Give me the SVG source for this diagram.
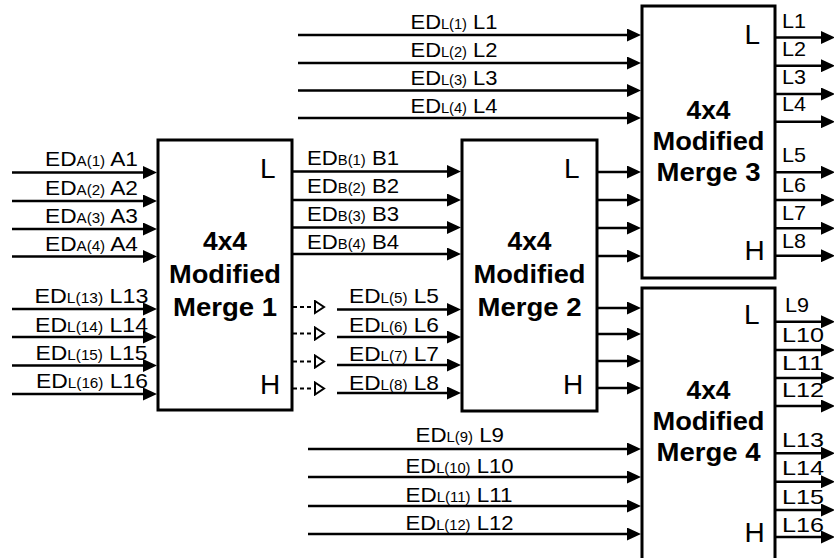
<svg xmlns="http://www.w3.org/2000/svg" width="834" height="558" viewBox="0 0 834 558">
<style>
.box{fill:#fff;stroke:#000;stroke-width:3}
.w{stroke:#000;stroke-width:2.5;fill:none;marker-end:url(#ah)}
.d{stroke:#000;stroke-width:2;stroke-dasharray:4 3;fill:none;marker-end:url(#oh)}
text{font-family:"Liberation Sans",Arial,sans-serif;fill:#000}
.lbl{font-size:21px}
.sub{font-size:14px}
.out{font-size:21px}
.big{font-size:28px}
.t{font-size:25px;font-weight:bold;text-anchor:middle}
</style>
<defs>
<marker id="ah" viewBox="0 0 14 13" refX="8" refY="6.5" markerWidth="14" markerHeight="13" markerUnits="userSpaceOnUse" orient="auto"><path d="M0,0 L14,6.5 L0,13 Z" fill="#000"/></marker>
<marker id="oh" viewBox="-1.5 -1.5 13 15" refX="0" refY="6" markerWidth="13" markerHeight="15" markerUnits="userSpaceOnUse" orient="auto"><path d="M0,0 L9,6 L0,12 Z" fill="#fff" stroke="#000" stroke-width="2" stroke-dasharray="none"/></marker>
</defs>
<g id="connectors">
<line class="w" x1="12" y1="172.5" x2="151" y2="172.5"/>
<line class="w" x1="12" y1="201" x2="151" y2="201"/>
<line class="w" x1="12" y1="229" x2="151" y2="229"/>
<line class="w" x1="12" y1="256.5" x2="151" y2="256.5"/>
<line class="w" x1="12" y1="309" x2="151" y2="309"/>
<line class="w" x1="12" y1="337" x2="151" y2="337"/>
<line class="w" x1="12" y1="365.5" x2="151" y2="365.5"/>
<line class="w" x1="12" y1="394" x2="151" y2="394"/>
<line class="w" x1="292" y1="171.5" x2="455" y2="171.5"/>
<line class="w" x1="292" y1="200" x2="455" y2="200"/>
<line class="w" x1="292" y1="227.5" x2="455" y2="227.5"/>
<line class="w" x1="292" y1="254" x2="455" y2="254"/>
<line class="d" x1="293" y1="307" x2="315" y2="307"/>
<line class="d" x1="293" y1="333.5" x2="315" y2="333.5"/>
<line class="d" x1="293" y1="361.5" x2="315" y2="361.5"/>
<line class="d" x1="293" y1="388.5" x2="315" y2="388.5"/>
<line class="w" x1="337" y1="309.5" x2="455" y2="309.5"/>
<line class="w" x1="337" y1="337" x2="455" y2="337"/>
<line class="w" x1="337" y1="365" x2="455" y2="365"/>
<line class="w" x1="337" y1="393" x2="455" y2="393"/>
<line class="w" x1="298" y1="35" x2="635" y2="35"/>
<line class="w" x1="298" y1="63" x2="635" y2="63"/>
<line class="w" x1="298" y1="90.5" x2="635" y2="90.5"/>
<line class="w" x1="298" y1="118" x2="635" y2="118"/>
<line class="w" x1="597" y1="172" x2="635" y2="172"/>
<line class="w" x1="597" y1="200" x2="635" y2="200"/>
<line class="w" x1="597" y1="228" x2="635" y2="228"/>
<line class="w" x1="597" y1="256" x2="635" y2="256"/>
<line class="w" x1="597" y1="308" x2="635" y2="308"/>
<line class="w" x1="597" y1="334" x2="635" y2="334"/>
<line class="w" x1="597" y1="361" x2="635" y2="361"/>
<line class="w" x1="597" y1="388" x2="635" y2="388"/>
<line class="w" x1="308" y1="449" x2="635" y2="449"/>
<line class="w" x1="308" y1="477" x2="635" y2="477"/>
<line class="w" x1="308" y1="506" x2="635" y2="506"/>
<line class="w" x1="308" y1="534" x2="635" y2="534"/>
<line class="w" x1="775" y1="37.5" x2="829" y2="37.5"/>
<line class="w" x1="775" y1="65.7" x2="829" y2="65.7"/>
<line class="w" x1="775" y1="94" x2="829" y2="94"/>
<line class="w" x1="775" y1="121.7" x2="829" y2="121.7"/>
<line class="w" x1="775" y1="172.3" x2="829" y2="172.3"/>
<line class="w" x1="775" y1="200" x2="829" y2="200"/>
<line class="w" x1="775" y1="228.3" x2="829" y2="228.3"/>
<line class="w" x1="775" y1="255.7" x2="829" y2="255.7"/>
<line class="w" x1="775" y1="321.7" x2="829" y2="321.7"/>
<line class="w" x1="775" y1="350" x2="829" y2="350"/>
<line class="w" x1="775" y1="378" x2="829" y2="378"/>
<line class="w" x1="775" y1="406" x2="829" y2="406"/>
<line class="w" x1="775" y1="453.3" x2="829" y2="453.3"/>
<line class="w" x1="775" y1="481.7" x2="829" y2="481.7"/>
<line class="w" x1="775" y1="510" x2="829" y2="510"/>
<line class="w" x1="775" y1="537" x2="829" y2="537"/>
</g>
<g id="labels">
<text class="lbl" x="45" y="166" textLength="93" lengthAdjust="spacingAndGlyphs">ED<tspan class="sub">A(1)</tspan> A1</text>
<text class="lbl" x="45" y="194.5" textLength="93" lengthAdjust="spacingAndGlyphs">ED<tspan class="sub">A(2)</tspan> A2</text>
<text class="lbl" x="45" y="223" textLength="93" lengthAdjust="spacingAndGlyphs">ED<tspan class="sub">A(3)</tspan> A3</text>
<text class="lbl" x="45" y="251" textLength="93" lengthAdjust="spacingAndGlyphs">ED<tspan class="sub">A(4)</tspan> A4</text>
<text class="lbl" x="34.5" y="303" textLength="114" lengthAdjust="spacingAndGlyphs">ED<tspan class="sub">L(13)</tspan> L13</text>
<text class="lbl" x="35" y="331.5" textLength="113" lengthAdjust="spacingAndGlyphs">ED<tspan class="sub">L(14)</tspan> L14</text>
<text class="lbl" x="35.5" y="360" textLength="112" lengthAdjust="spacingAndGlyphs">ED<tspan class="sub">L(15)</tspan> L15</text>
<text class="lbl" x="36" y="388" textLength="112" lengthAdjust="spacingAndGlyphs">ED<tspan class="sub">L(16)</tspan> L16</text>
<text class="lbl" x="307" y="164.5" textLength="92" lengthAdjust="spacingAndGlyphs">ED<tspan class="sub">B(1)</tspan> B1</text>
<text class="lbl" x="307" y="193" textLength="92" lengthAdjust="spacingAndGlyphs">ED<tspan class="sub">B(2)</tspan> B2</text>
<text class="lbl" x="307" y="221" textLength="92" lengthAdjust="spacingAndGlyphs">ED<tspan class="sub">B(3)</tspan> B3</text>
<text class="lbl" x="307" y="248.5" textLength="92" lengthAdjust="spacingAndGlyphs">ED<tspan class="sub">B(4)</tspan> B4</text>
<text class="lbl" x="349" y="303" textLength="90" lengthAdjust="spacingAndGlyphs">ED<tspan class="sub">L(5)</tspan> L5</text>
<text class="lbl" x="349" y="332" textLength="90" lengthAdjust="spacingAndGlyphs">ED<tspan class="sub">L(6)</tspan> L6</text>
<text class="lbl" x="349" y="361" textLength="90" lengthAdjust="spacingAndGlyphs">ED<tspan class="sub">L(7)</tspan> L7</text>
<text class="lbl" x="349" y="390" textLength="90" lengthAdjust="spacingAndGlyphs">ED<tspan class="sub">L(8)</tspan> L8</text>
<text class="lbl" x="410.5" y="28.5" textLength="87" lengthAdjust="spacingAndGlyphs">ED<tspan class="sub">L(1)</tspan> L1</text>
<text class="lbl" x="410.5" y="56.5" textLength="87" lengthAdjust="spacingAndGlyphs">ED<tspan class="sub">L(2)</tspan> L2</text>
<text class="lbl" x="410.5" y="85" textLength="87" lengthAdjust="spacingAndGlyphs">ED<tspan class="sub">L(3)</tspan> L3</text>
<text class="lbl" x="410.5" y="113" textLength="87" lengthAdjust="spacingAndGlyphs">ED<tspan class="sub">L(4)</tspan> L4</text>
<text class="lbl" x="415.5" y="442" textLength="88.5" lengthAdjust="spacingAndGlyphs">ED<tspan class="sub">L(9)</tspan> L9</text>
<text class="lbl" x="405.5" y="472.5" textLength="108" lengthAdjust="spacingAndGlyphs">ED<tspan class="sub">L(10)</tspan> L10</text>
<text class="lbl" x="405.5" y="501.5" textLength="107" lengthAdjust="spacingAndGlyphs">ED<tspan class="sub">L(11)</tspan> L11</text>
<text class="lbl" x="405.5" y="529.5" textLength="108" lengthAdjust="spacingAndGlyphs">ED<tspan class="sub">L(12)</tspan> L12</text>
<text class="out" x="782" y="27.5" textLength="24" lengthAdjust="spacingAndGlyphs">L1</text>
<text class="out" x="782" y="55.5" textLength="24" lengthAdjust="spacingAndGlyphs">L2</text>
<text class="out" x="782" y="83.5" textLength="24" lengthAdjust="spacingAndGlyphs">L3</text>
<text class="out" x="782" y="111" textLength="24" lengthAdjust="spacingAndGlyphs">L4</text>
<text class="out" x="782" y="161.5" textLength="24" lengthAdjust="spacingAndGlyphs">L5</text>
<text class="out" x="782" y="191.5" textLength="24" lengthAdjust="spacingAndGlyphs">L6</text>
<text class="out" x="782" y="220" textLength="24" lengthAdjust="spacingAndGlyphs">L7</text>
<text class="out" x="782" y="248" textLength="24" lengthAdjust="spacingAndGlyphs">L8</text>
<text class="out" x="785" y="311.5" textLength="24" lengthAdjust="spacingAndGlyphs">L9</text>
<text class="out" x="782" y="341.5" textLength="42" lengthAdjust="spacingAndGlyphs">L10</text>
<text class="out" x="782" y="369.5" textLength="42" lengthAdjust="spacingAndGlyphs">L11</text>
<text class="out" x="782" y="397" textLength="42" lengthAdjust="spacingAndGlyphs">L12</text>
<text class="out" x="782" y="446.5" textLength="42" lengthAdjust="spacingAndGlyphs">L13</text>
<text class="out" x="782" y="475" textLength="42" lengthAdjust="spacingAndGlyphs">L14</text>
<text class="out" x="782" y="503.5" textLength="42" lengthAdjust="spacingAndGlyphs">L15</text>
<text class="out" x="782" y="531.5" textLength="42" lengthAdjust="spacingAndGlyphs">L16</text>
</g>
<g id="merge1">
<rect class="box" x="158" y="140" width="134" height="270"/>
<text class="big" x="260" y="178">L</text>
<text class="big" x="260" y="394">H</text>
<text class="t" x="225" y="250" textLength="44" lengthAdjust="spacingAndGlyphs">4x4</text>
<text class="t" x="225" y="283" textLength="112" lengthAdjust="spacingAndGlyphs">Modified</text>
<text class="t" x="225" y="316" textLength="104" lengthAdjust="spacingAndGlyphs">Merge 1</text>
</g>
<g id="merge2">
<rect class="box" x="462" y="140" width="135" height="271"/>
<text class="big" x="564" y="178">L</text>
<text class="big" x="563" y="394">H</text>
<text class="t" x="529.5" y="250" textLength="44" lengthAdjust="spacingAndGlyphs">4x4</text>
<text class="t" x="529.5" y="283" textLength="112" lengthAdjust="spacingAndGlyphs">Modified</text>
<text class="t" x="529.5" y="316" textLength="104" lengthAdjust="spacingAndGlyphs">Merge 2</text>
</g>
<g id="merge3">
<rect class="box" x="642" y="6" width="133" height="272"/>
<text class="big" x="744.5" y="43.5">L</text>
<text class="big" x="744.5" y="260">H</text>
<text class="t" x="708.5" y="119" textLength="44" lengthAdjust="spacingAndGlyphs">4x4</text>
<text class="t" x="708.5" y="150" textLength="112" lengthAdjust="spacingAndGlyphs">Modified</text>
<text class="t" x="708.5" y="181" textLength="104" lengthAdjust="spacingAndGlyphs">Merge 3</text>
</g>
<g id="merge4">
<rect class="box" x="642" y="288" width="133" height="272"/>
<text class="big" x="744" y="324">L</text>
<text class="big" x="744.5" y="541.5">H</text>
<text class="t" x="708.5" y="399" textLength="44" lengthAdjust="spacingAndGlyphs">4x4</text>
<text class="t" x="708.5" y="430" textLength="112" lengthAdjust="spacingAndGlyphs">Modified</text>
<text class="t" x="708.5" y="461" textLength="104" lengthAdjust="spacingAndGlyphs">Merge 4</text>
</g>
</svg>
